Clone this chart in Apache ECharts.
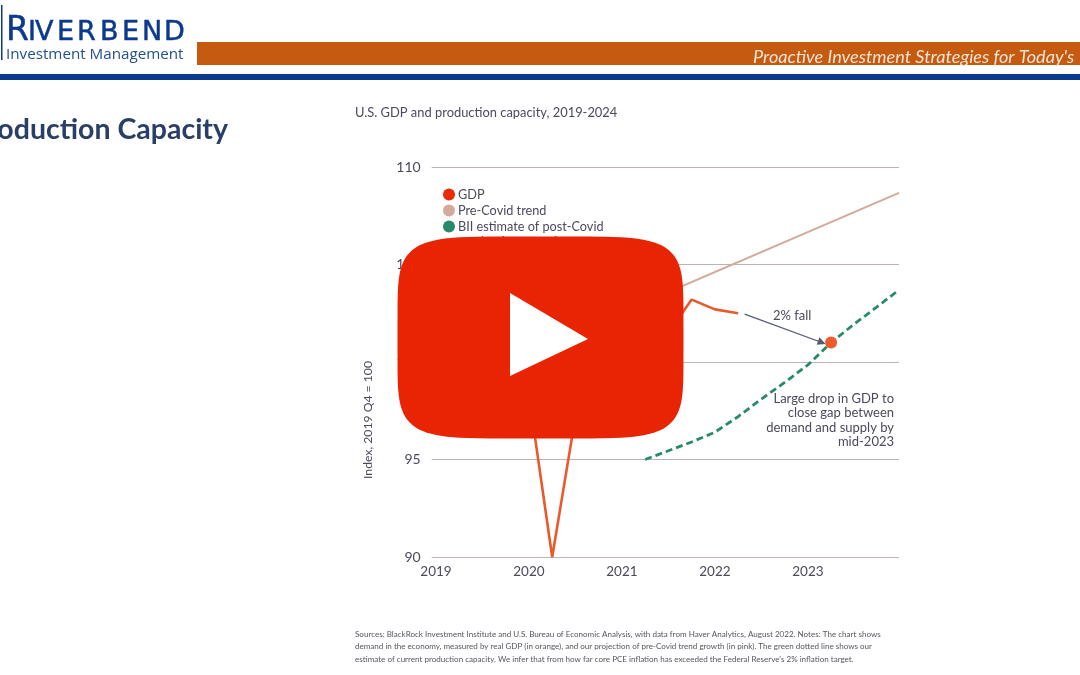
<!DOCTYPE html>
<html><head><meta charset="utf-8">
<style>html,body{margin:0;padding:0;background:#fff;overflow:hidden}#c{width:1080px;height:675px}</style>
<script src="https://cdn.jsdelivr.net/npm/echarts@6/dist/echarts.min.js"></script>
</head><body><div id="c"></div>
<script>
const chartTitle = "U.S. GDP and production capacity, 2019-2024";
const yAxisTitle = "Index, 2019 Q4 = 100";
const yearTicks = [2019, 2020, 2021, 2022, 2023];
const gdpNames = ["GDP", "Pre-Covid trend", "BII estimate of post-Covid"];
const gdp = [[2019,98.6],[2019.25,99.3],[2019.5,99.9],[2019.75,100],[2020,98.3],[2020.25,90],[2020.5,97.2],[2020.75,98.2],[2021,99.6],[2021.25,101],[2021.5,101.5],[2021.75,103.2],[2022,102.7],[2022.25,102.5]];
const trend = [[2019.75,100],[2023.98,108.67]];
const capacity = [[2021.25,95],[2021.5,95.45],[2021.75,95.9],[2022,96.4],[2022.25,97.2],[2022.5,98.1],[2022.75,98.95],[2023,99.85],[2023.25,101],[2023.5,101.95],[2023.75,102.85],[2023.98,103.7]];
const dropPoint = [[2023.25,101]];
const arrowFrom = [2022.32,102.46];
const arrowTo = [2023.15,101];
const arrowLabel = "2% fall";
const noteLines = ["Large drop in GDP to","close gap between","demand and supply by","mid-2023"];
const sourceLines = [
 "Sources: BlackRock Investment Institute and U.S. Bureau of Economic Analysis, with data from Haver Analytics, August 2022. Notes: The chart shows",
 "demand in the economy, measured by real GDP (in orange), and our projection of pre-Covid trend growth (in pink). The green dotted line shows our",
 "estimate of current production capacity. We infer that from how far core PCE inflation has exceeded the Federal Reserve's 2% inflation target."
];
const INK = "#4a4a5c", BLUE = "#0b3a8c", ORANGE = "#c55a11", RED = "#e92402", F = "Lato, 'Open Sans', sans-serif", OS = "'Open Sans',sans-serif", DV = "'DejaVu Sans',sans-serif";
const txt = (x,y,text,size,fill,extra={},styleExtra={}) => Object.assign({type:'text',x,y,z:10,style:Object.assign({text,fontSize:size,fill,fontFamily:F,verticalAlign:'middle'},styleExtra)},extra);
// play-button outline (decoration, not data)
const buttonPoints = [];
for (let i=0;i<120;i++){const t=i/120*2*Math.PI,c=Math.cos(t),s=Math.sin(t);
 buttonPoints.push([540.5+143*Math.sign(c)*Math.pow(Math.abs(c),2/5.5),337.5+101*Math.sign(s)*Math.pow(Math.abs(s),2/5.5)]);}
const logoLetters = [["I",28],["V",35],["E",57],["R",77],["B",100],["E",122],["N",142],["D",164]];
const graphics = [
 {type:'rect',z:10,shape:{x:1,y:5,width:1.5,height:55},style:{fill:BLUE}},
 txt(6,31,"R",33,BLUE,{},{fontFamily:DV,stroke:BLUE,lineWidth:0.5}),
 ...logoLetters.map(([c,x])=>txt(x,33,c,27,BLUE,{},{fontFamily:DV,stroke:BLUE,lineWidth:0.5})),
 txt(6,55,"Investment Management",15.2,"#24508f",{},{fontFamily:OS}),
 {type:'rect',z:10,shape:{x:197,y:42,width:883,height:23},style:{fill:ORANGE}},
 {type:'rect',z:10,shape:{x:0,y:74,width:1080,height:6},style:{fill:BLUE}},
 txt(753,57,"Proactive Investment Strategies for Today's",18.1,"#f5e3d3",{},{fontStyle:'italic'}),
 txt(228,130,"Production Capacity",28.5,"#2a3f66",{},{textAlign:'right',fontWeight:'bold'}),
 txt(368,420,yAxisTitle,12.2,INK,{rotation:Math.PI/2},{textAlign:'center'}),
 txt(458,242,"production capacity",12.7,INK,{z:3}),
 txt(773,316,arrowLabel,13,INK),
 ...noteLines.map((t,i)=>txt(894,399+i*14.2,t,13,INK,{},{textAlign:'right'})),
 ...sourceLines.map((t,i)=>txt(355,634+i*12.5,t,8.05,"#55555f")),
 {type:'polygon',z:100,shape:{points:buttonPoints},style:{fill:RED}},
 {type:'polygon',z:101,shape:{points:[[510,293],[588,339],[510,376]]},style:{fill:'#fff'}}
];
const chart = echarts.init(document.getElementById('c'),null,{renderer:'canvas'});
chart.setOption({
 animation:false,backgroundColor:'#fff',
 title:{text:chartTitle,left:355,top:106,padding:0,textStyle:{fontSize:12.9,fontWeight:'normal',color:INK,fontFamily:F}},
 grid:{left:431.7,right:181,top:167,bottom:118},
 legend:{left:438,top:183,orient:'vertical',itemGap:3,itemWidth:12,itemHeight:12,icon:'circle',data:gdpNames,textStyle:{fontSize:12.7,color:INK,fontFamily:F,padding:[0,0,0,-2]}},
 xAxis:{type:'value',min:2018.954,max:2023.98,splitLine:{show:false},axisLine:{show:false},axisTick:{show:false},
  axisLabel:{customValues:yearTicks,color:INK,fontSize:13.5,fontFamily:F,margin:8,formatter:v=>String(Math.round(v))}},
 yAxis:{type:'value',min:90,max:110,interval:5,axisLine:{show:false},axisTick:{show:false},
  splitLine:{lineStyle:{color:'#bfb3b1',width:1.2}},axisLabel:{color:INK,fontSize:14,fontFamily:F,margin:11}},
 series:[
  {name:gdpNames[1],type:'line',data:trend,showSymbol:false,lineStyle:{color:'#d2ab9a',width:2},itemStyle:{color:'#d2ab9a'},z:2},
  {name:gdpNames[2],type:'line',data:capacity,showSymbol:false,lineStyle:{color:'#2a8a68',width:2.8,type:[7,4]},itemStyle:{color:'#2a8a68'},z:3},
  {name:gdpNames[0],type:'line',data:gdp,showSymbol:false,lineStyle:{color:'#e85a2c',width:2.6},itemStyle:{color:'#ea2a08'},z:4,
   markLine:{silent:true,symbol:['none','triangle'],symbolSize:8,label:{show:false},lineStyle:{color:'#555a70',width:1.3,type:'solid'},itemStyle:{color:'#2a3560'},
    data:[[{coord:arrowFrom},{coord:arrowTo}]]}},
  {name:'2023 point',type:'scatter',data:dropPoint,symbolSize:12,itemStyle:{color:'#ee5a2c',opacity:1},z:5}
 ],
 graphic:graphics
});
</script></body></html>
